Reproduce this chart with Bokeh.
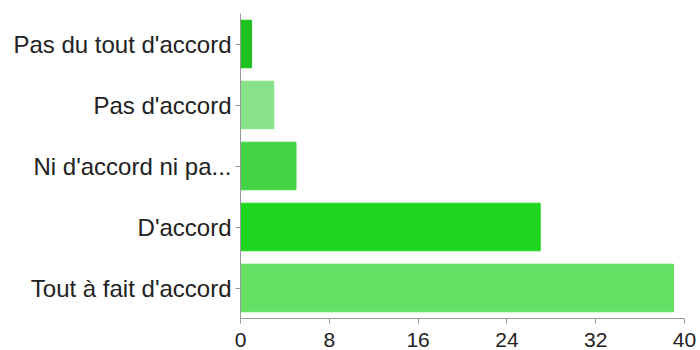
from bokeh.plotting import figure
from bokeh.models import FactorRange, FixedTicker, ColumnDataSource
from bokeh.embed import file_html
from bokeh.resources import INLINE

categories = ["Pas du tout d'accord", "Pas d'accord", "Ni d'accord ni pa...", "D'accord", "Tout à fait d'accord"]
values = [1, 3, 5, 27, 39]
colors = ["#1ec21e", "#88e288", "#42d442", "#1fd61f", "#63df63"]
x_ticks = [0, 8, 16, 24, 32, 40]

src = ColumnDataSource(dict(cat=categories, val=values, color=colors))

p = figure(width=700, height=350, output_backend="svg", toolbar_location=None,
           y_range=FactorRange(*reversed(categories)), x_range=(0, 40),
           min_border_left=240, min_border_right=16, min_border_top=13, min_border_bottom=32)
p.hbar(y="cat", right="val", left=0, height=0.78, color="color", source=src)

p.outline_line_color = None
p.xgrid.visible = False
p.ygrid.visible = False
p.xaxis.ticker = FixedTicker(ticks=x_ticks)
p.xaxis.minor_tick_line_color = None
for ax in (p.xaxis[0], p.yaxis[0]):
    ax.axis_line_color = "#999999"
    ax.major_tick_line_color = "#999999"
    ax.major_tick_out = 5
    ax.major_tick_in = 0
    ax.major_label_text_font = "Liberation Sans"
    ax.major_label_text_color = "#222222"
p.yaxis.major_label_text_font_size = "24px"
p.xaxis.major_label_text_font_size = "21px"
p.xaxis.major_label_standoff = 9
p.yaxis.major_label_standoff = 4

open("out.html", "w").write(file_html(p, INLINE))
